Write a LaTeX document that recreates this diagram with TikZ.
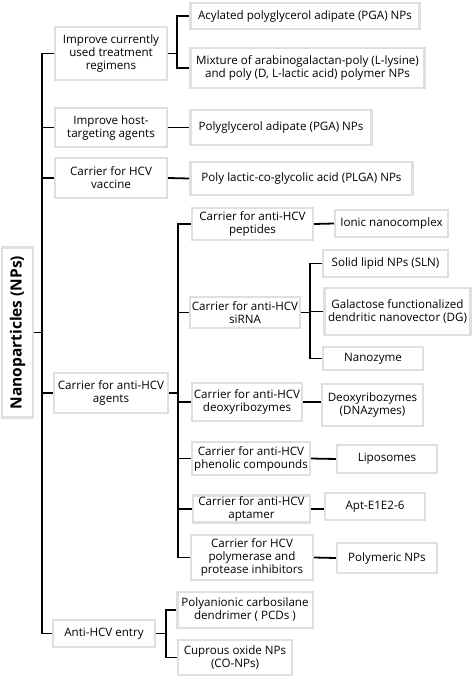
\documentclass[tikz,border=0pt]{standalone}
\usepackage{fontspec}
\setmainfont{Open Sans}
\usetikzlibrary{shadows}
\begin{document}
\begin{tikzpicture}[x=1bp, y=-1bp, font=\fontsize{11.6bp}{13bp}\selectfont]
    \tikzstyle{box_style} = [draw=gray!25, line width=2.5, fill=white, align=center, inner sep=1.2, drop shadow={shadow xshift=1.2pt, shadow yshift=-1.2pt, opacity=0.45}]
    \tikzstyle{root_style} = [box_style, rotate=90, font=\fontsize{15.5bp}{17bp}\selectfont\bfseries]
    \tikzstyle{line_style} = [-, black, line width=1.8]

    \useasboundingbox (0,0) rectangle (473,680);

    \node[root_style, minimum width=171, minimum height=31] (np) at (17.5,332.5) {Nanoparticles (NPs)};

    \node[box_style, minimum width=112, minimum height=53] (a1) at (111,53.5) {Improve currently\\used treatment\\regimens};
    \node[box_style, minimum width=112, minimum height=39] (a2) at (111,127.5) {Improve host-\\targeting agents};
    \node[box_style, minimum width=112, minimum height=40] (a3) at (111,178) {Carrier for HCV\\vaccine};
    \node[box_style, minimum width=114, minimum height=40] (a4) at (111,393) {Carrier for anti-HCV\\agents};
    \node[box_style, minimum width=102, minimum height=27] (a5) at (104,633.5) {Anti-HCV entry};

    \node[box_style, minimum width=230, minimum height=26] (b1) at (305,16) {Acylated polyglycerol adipate (PGA) NPs};
    \node[box_style, minimum width=235, minimum height=40] (b2) at (307.5,68) {Mixture of arabinogalactan-poly (L-lysine)\\and poly (D, L-lactic acid) polymer NPs};
    \node[box_style, minimum width=182, minimum height=35] (b3) at (281,127.5) {Polyglycerol adipate (PGA) NPs};
    \node[box_style, minimum width=223, minimum height=33] (b4) at (301.5,178.5) {Poly lactic-co-glycolic acid (PLGA) NPs};

    \node[box_style, minimum width=121, minimum height=32] (c1) at (252.5,224) {Carrier for anti-HCV\\peptides};
    \node[box_style, minimum width=110, minimum height=31] (c2) at (245,312.5) {Carrier for anti-HCV\\siRNA};
    \node[box_style, minimum width=110, minimum height=38] (c3) at (247,402) {Carrier for anti-HCV\\deoxyribozymes};
    \node[box_style, minimum width=118, minimum height=33] (c4) at (251,458.5) {Carrier for anti-HCV\\phenolic compounds};
    \node[box_style, minimum width=117, minimum height=26] (c5) at (251.5,509) {Carrier for anti-HCV\\aptamer};
    \node[box_style, minimum width=122, minimum height=45] (c6) at (252,557.5) {Carrier for HCV\\polymerase and\\protease inhibitors};

    \node[box_style, minimum width=113, minimum height=27] (d1) at (391.5,223.5) {Ionic nanocomplex};
    \node[box_style, minimum width=125, minimum height=27] (d2) at (385.5,263.5) {Solid lipid NPs (SLN)};
    \node[box_style, minimum width=147, minimum height=47] (d3) at (397.5,311.5) {Galactose functionalized\\dendritic nanovector (DG)};
    \node[box_style, minimum width=100, minimum height=23] (d4) at (373,358.5) {Nanozyme};
    \node[box_style, minimum width=101, minimum height=42] (d5) at (372.5,405) {Deoxyribozymes\\(DNAzymes)};
    \node[box_style, minimum width=100, minimum height=28] (d6) at (387,459) {Liposomes};
    \node[box_style, minimum width=100, minimum height=27] (d7) at (375,506.5) {Apt-E1E2-6};
    \node[box_style, minimum width=100, minimum height=30] (d8) at (387,558) {Polymeric NPs};

    \node[box_style, minimum width=136, minimum height=36] (e1) at (245,610) {Polyanionic carbosilane\\dendrimer ( PCDs )};
    \node[box_style, minimum width=114, minimum height=35] (e2) at (235,657.5) {Cuprous oxide NPs\\(CO-NPs)};

    \coordinate (trunk) at (42,0);
    \coordinate (bus_a1) at (177,0);
    \coordinate (bus_a4) at (178,0);
    \coordinate (bus_c2) at (310,0);
    \coordinate (bus_a5) at (166,0);

    \draw[line_style] (np.south) -- (np.south -| trunk);
    \draw[line_style] (a1.west) -- (a1.west -| trunk) -- (a5.west -| trunk) -- (a5.west);
    \draw[line_style] (a2.west) -- (a2.west -| trunk);
    \draw[line_style] (a3.west) -- (a3.west -| trunk);
    \draw[line_style] (a4.west) -- (a4.west -| trunk);

    \draw[line_style] (a1.east) -- (a1.east -| bus_a1);
    \draw[line_style] (b1.west) -- (b1.west -| bus_a1) -- (b2.west -| bus_a1) -- (b2.west);
    \draw[line_style] (a2.east) -- (b3.west);
    \draw[line_style] (a3.east) -- (b4.west);

    \draw[line_style] (a4.east) -- (a4.east -| bus_a4);
    \draw[line_style] (c1.west) -- (c1.west -| bus_a4) -- (c6.west -| bus_a4) -- (c6.west);
    \draw[line_style] (c2.west) -- (c2.west -| bus_a4);
    \draw[line_style] (c3.west) -- (c3.west -| bus_a4);
    \draw[line_style] (c4.west) -- (c4.west -| bus_a4);
    \draw[line_style] (c5.west) -- (c5.west -| bus_a4);

    \draw[line_style] (c1.east) -- (d1.west);
    \draw[line_style] (c2.east) -- (c2.east -| bus_c2);
    \draw[line_style] (d2.west) -- (d2.west -| bus_c2) -- (d4.west -| bus_c2) -- (d4.west);
    \draw[line_style] (d3.west) -- (d3.west -| bus_c2);
    \draw[line_style] (c3.east) -- (c3.east -| d5.west);
    \draw[line_style] (c4.east) -- (d6.west);
    \draw[line_style] (c5.east) -- (c5.east -| d7.west);
    \draw[line_style] (c6.east) -- (d8.west);

    \draw[line_style] (a5.east) -- (a5.east -| bus_a5);
    \draw[line_style] (e1.west) -- (e1.west -| bus_a5) -- (e2.west -| bus_a5) -- (e2.west);
\end{tikzpicture}
\end{document}
